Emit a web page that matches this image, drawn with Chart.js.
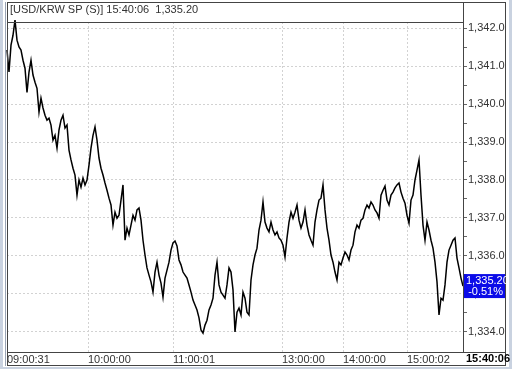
<!DOCTYPE html>
<html>
<head>
<meta charset="utf-8">
<script src="https://cdn.jsdelivr.net/npm/chart.js@4/dist/chart.umd.min.js"></script>
<style>
  html, body { margin: 0; padding: 0; background: #fff; }
  canvas { display: block; }
</style>
</head>
<body>
<canvas id="fx" width="512" height="369"></canvas>
<script>
const symbolName = "[USD/KRW SP (S)]";
const lastTime = "15:40:06";
const lastPrice = 1335.20;
const changePct = "-0.51%";

// x positions are tick indexes (one sample per step), labels only at these
const timeTicks = [0, 40.5, 83, 137.5, 168, 200];
const timeLabels = ["09:00:31", "10:00:00", "11:00:01", "13:00:00", "14:00:00", "15:00:02"];

const priceTicks = [1334, 1334.5, 1335, 1335.5, 1336, 1336.5, 1337, 1337.5, 1338,
  1338.5, 1339, 1339.5, 1340, 1340.5, 1341, 1341.5, 1342];

const prices = [
  1341.43, 1340.85, 1341.56, 1341.82, 1342.22, 1341.69, 1341.51, 1341.43, 1341.16, 1340.95,
  1340.31, 1340.85, 1341.16, 1340.77, 1340.58, 1340.42, 1339.79, 1340.16, 1339.90, 1339.71,
  1339.58, 1339.63, 1339.45, 1339.05, 1339.18, 1338.84, 1339.32, 1339.58, 1339.71, 1339.37,
  1339.45, 1338.79, 1338.53, 1338.31, 1338.13, 1337.60, 1338.00, 1337.81, 1338.05, 1337.87,
  1338.00, 1338.39, 1338.84, 1339.18, 1339.40, 1339.05, 1338.58, 1338.31, 1338.13, 1337.92,
  1337.73, 1337.52, 1337.34, 1336.81, 1337.15, 1336.99, 1337.07, 1337.47, 1337.87, 1336.41,
  1336.73, 1336.55, 1336.81, 1337.07, 1336.94, 1337.21, 1337.26, 1336.94, 1336.41, 1336.02,
  1335.68, 1335.49, 1335.31, 1335.04, 1335.57, 1335.83, 1335.49, 1335.28, 1334.91, 1335.41,
  1335.62, 1335.83, 1336.15, 1336.34, 1336.39, 1336.26, 1335.89, 1335.76, 1335.57, 1335.49,
  1335.41, 1335.23, 1335.04, 1334.83, 1334.70, 1334.57, 1334.36, 1334.04, 1333.96, 1334.17,
  1334.30, 1334.57, 1334.70, 1334.88, 1335.49, 1335.83, 1335.23, 1335.04, 1334.96, 1334.88,
  1335.23, 1335.68, 1335.57, 1335.10, 1333.99, 1334.51, 1334.62, 1334.44, 1335.04, 1334.88,
  1334.51, 1334.44, 1335.36, 1335.76, 1336.02, 1336.20, 1336.68, 1336.94, 1337.42, 1336.89,
  1336.73, 1336.63, 1336.89, 1336.68, 1336.55, 1336.63, 1336.47, 1336.41, 1336.28, 1335.97,
  1336.47, 1336.89, 1337.15, 1336.99, 1337.15, 1337.34, 1336.94, 1336.73, 1336.89, 1337.21,
  1336.81, 1336.55, 1336.41, 1336.28, 1336.89, 1337.21, 1337.47, 1337.52, 1337.87, 1337.21,
  1336.73, 1336.41, 1336.02, 1335.83, 1335.57, 1335.36, 1335.83, 1335.76, 1335.94, 1336.10,
  1336.02, 1335.89, 1336.15, 1336.28, 1336.63, 1336.81, 1336.73, 1336.94, 1336.99, 1337.21,
  1337.34, 1337.26, 1337.42, 1337.34, 1337.21, 1337.13, 1336.99, 1337.60, 1337.73, 1337.84,
  1337.47, 1337.34, 1337.60, 1337.68, 1337.79, 1337.87, 1337.92, 1337.68, 1337.52, 1337.39,
  1337.07, 1336.86, 1337.47, 1337.60, 1338.00, 1338.26, 1338.53, 1337.60, 1336.81, 1336.41,
  1336.89, 1336.68, 1336.41, 1336.20, 1335.83, 1335.31, 1334.44, 1334.88, 1334.83, 1335.23,
  1335.83, 1336.15, 1336.28, 1336.41, 1336.47, 1335.94, 1335.68, 1335.41, 1335.20
];

const FONT = "'Liberation Sans', Arial, sans-serif";
const GRID = "#d2d2d2";
const fmt = v => v.toLocaleString("en-US", { minimumFractionDigits: 2, maximumFractionDigits: 2 });

// frame, title line, price flag and last time box
const frame = {
  id: "frame",
  afterDraw(c) {
    const ctx = c.ctx, a = c.chartArea, ys = c.scales.y;
    ctx.save();
    ctx.fillStyle = "#fff";
    ctx.fillRect(506, 0, 6, 369);
    ctx.fillRect(a.left, 0, 506 - a.left, a.top - 2);

    ctx.fillStyle = "#c9d2e0";
    ctx.fillRect(0, 0, 3, 369);
    ctx.fillRect(509, 0, 3, 369);
    ctx.fillRect(0, 367, 512, 2);
    ctx.fillStyle = "#9aa4b4";
    ctx.fillRect(5, 2, 1, 364);

    ctx.strokeStyle = "#444";
    ctx.lineWidth = 1;
    ctx.strokeRect(a.left + 0.5, 2.5, 505 - a.left, 363);
    ctx.beginPath();
    ctx.moveTo(a.left, a.top + 0.5); ctx.lineTo(a.right, a.top + 0.5);
    ctx.moveTo(a.right + 0.5, 2); ctx.lineTo(a.right + 0.5, a.bottom);
    ctx.moveTo(a.left, a.bottom + 0.5); ctx.lineTo(506, a.bottom + 0.5);
    ctx.stroke();

    ctx.font = "11px " + FONT;
    ctx.fillStyle = "#333";
    ctx.textBaseline = "middle";
    ctx.textAlign = "left";
    ctx.fillText(symbolName + " " + lastTime + "  " + fmt(lastPrice), a.left + 3, 10);

    const py = ys.getPixelForValue(lastPrice);
    ctx.fillStyle = "#0b0be8";
    ctx.fillRect(a.right + 1, py - 12, 505 - a.right - 1, 24);
    ctx.fillStyle = "#fff";
    ctx.fillText(fmt(lastPrice), a.right + 3, py - 5);
    ctx.textAlign = "right";
    ctx.fillText(changePct, 503, py + 6);

    ctx.font = "bold 11px " + FONT;
    ctx.fillStyle = "#000";
    ctx.textAlign = "left";
    ctx.fillText(lastTime, a.right + 3, a.bottom + 7);
    ctx.restore();
  }
};

new Chart(document.getElementById("fx"), {
  type: "line",
  data: {
    datasets: [{
      data: prices.map((p, i) => ({ x: i, y: p })),
      borderColor: "#000",
      borderWidth: 1.5,
      pointRadius: 0,
      tension: 0,
      clip: false
    }]
  },
  options: {
    responsive: false,
    animation: false,
    devicePixelRatio: 1,
    layout: { padding: { left: 7, top: 22, right: 0, bottom: 0 } },
    plugins: { legend: { display: false }, tooltip: { enabled: false } },
    scales: {
      x: {
        type: "linear",
        min: 0,
        max: prices.length - 1,
        afterFit: s => { s.height = 17; },
        afterBuildTicks: s => { s.ticks = timeTicks.map(v => ({ value: v })); },
        grid: {
          drawTicks: false,
          color: c => (c.index === 0 ? "rgba(0,0,0,0)" : GRID)
        },
        border: { color: "#444", dash: [2, 2] },
        ticks: {
          autoSkip: false,
          maxRotation: 0,
          align: "start",
          padding: 1,
          color: "#333",
          font: { family: FONT, size: 11 },
          callback: (v, i) => timeLabels[i]
        }
      },
      y: {
        position: "right",
        min: 1333.46,
        max: 1342.17,
        afterFit: s => { s.width = 49; },
        afterBuildTicks: s => { s.ticks = priceTicks.map(v => ({ value: v })); },
        grid: {
          color: c => (Number.isInteger(c.tick.value) ? GRID : "rgba(0,0,0,0)"),
          tickColor: "#666",
          tickLength: 4,
          tickBorderDash: []
        },
        border: { color: "#444", dash: [2, 2] },
        ticks: {
          autoSkip: false,
          padding: 1,
          color: "#333",
          font: { family: FONT, size: 11 },
          callback: v => (Number.isInteger(v) ? fmt(v) : "")
        }
      }
    }
  },
  plugins: [frame]
});
</script>
</body>
</html>
